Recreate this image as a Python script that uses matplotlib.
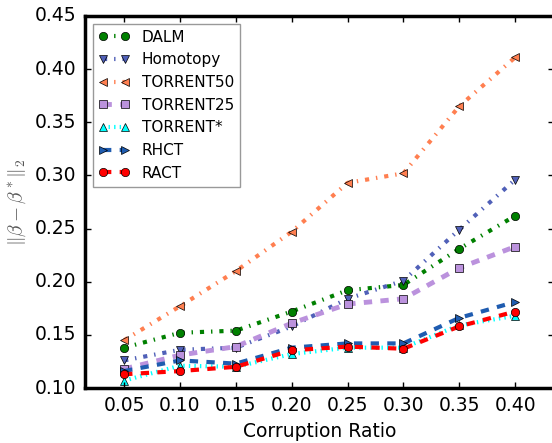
import numpy as np
import matplotlib.pyplot as plt

plt.style.use('classic')
plt.rcParams['mathtext.fontset'] = 'cm'

ratios = [0.05, 0.10, 0.15, 0.20, 0.25, 0.30, 0.35, 0.40]

dalm = [0.138, 0.152, 0.154, 0.172, 0.192, 0.197, 0.231, 0.262]
homotopy = [0.126, 0.136, 0.138, 0.158, 0.184, 0.201, 0.249, 0.296]
torrent50 = [0.145, 0.177, 0.210, 0.247, 0.293, 0.302, 0.365, 0.411]
torrent25 = [0.118, 0.131, 0.139, 0.161, 0.179, 0.184, 0.213, 0.233]
torrent_star = [0.107, 0.121, 0.120, 0.132, 0.138, 0.138, 0.159, 0.168]
rhct = [0.116, 0.126, 0.123, 0.138, 0.142, 0.142, 0.166, 0.181]
ract = [0.113, 0.116, 0.120, 0.1355, 0.139, 0.137, 0.158, 0.172]

fig = plt.figure(figsize=(5.52, 4.43), dpi=100, facecolor='white')
ax = fig.add_axes([0.154, 0.124, 0.85, 0.840])

ms = 6
ax.plot(ratios, dalm, '-.', color='g', lw=3, marker='o', ms=ms, mfc='g', label='DALM')
ax.plot(ratios, homotopy, '-.', color='#5060b8', lw=3, marker='v', ms=ms, mfc='#5060b8', label='Homotopy')
ax.plot(ratios, torrent50, '-.', color='#ff7f50', lw=3, marker='<', ms=ms, mfc='#ff7f50', label='TORRENT50')
ax.plot(ratios, torrent25, '--', color='#bb92dd', lw=3.5, marker='s', ms=ms, mfc='#bb92dd', label='TORRENT25')
ax.plot(ratios, torrent_star, ':', color='cyan', lw=3, marker='^', ms=ms, mfc='cyan', label='TORRENT*')
ax.plot(ratios, rhct, '--', color='#1f5cb0', lw=3, marker='>', ms=ms, mfc='#1f5cb0', label='RHCT')
ax.plot(ratios, ract, '--', color='red', lw=3, marker='o', ms=ms, mfc='red', label='RACT')

for sp in ax.spines.values():
    sp.set_linewidth(2.5)

ax.set_xlim(0.015, 0.435)
ax.set_ylim(0.10, 0.45)
ax.set_xticks(ratios)
ax.set_xticklabels(['%.2f' % r for r in ratios])
ax.set_yticks(np.arange(0.10, 0.451, 0.05))
ax.tick_params(labelsize=13.5, direction='in', length=4, width=1, pad=6)

ax.set_xlabel('Corruption Ratio', fontsize=13.5)
ax.set_ylabel(r'$\|\beta-\beta^*\|_2$', fontsize=14, color='#555555')

leg = ax.legend(loc='upper left', fontsize=11, numpoints=2, fancybox=False)
leg.get_frame().set_edgecolor('#999999')

fig.savefig('out.png', dpi=100, facecolor='white')
